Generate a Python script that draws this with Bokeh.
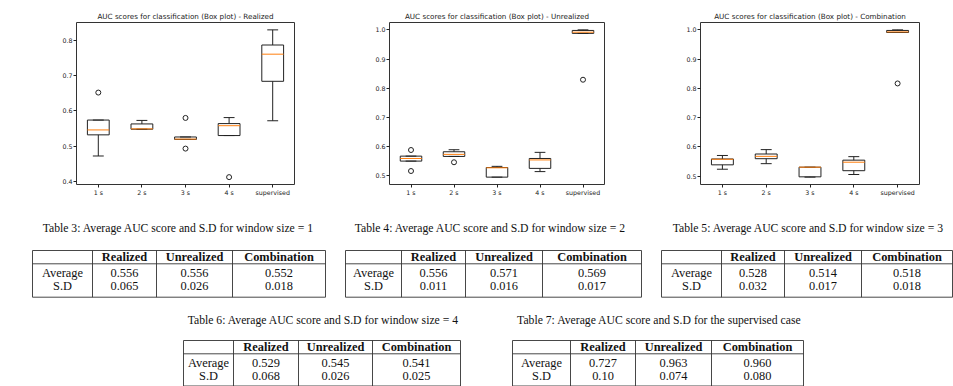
from bokeh.plotting import figure
from bokeh.layouts import column, row
from bokeh.models import Range1d, FixedTicker, NumeralTickFormatter
from bokeh.embed import file_html
from bokeh.resources import INLINE
from bokeh.core.properties import value

# ---------------- data ----------------
categories = ["1 s", "2 s", "3 s", "4 s", "supervised"]

realized_title = "AUC scores for classification (Box plot) - Realized"
realized_q1 = [0.532, 0.548, 0.519, 0.530, 0.684]
realized_med = [0.546, 0.549, 0.520, 0.558, 0.761]
realized_q3 = [0.574, 0.563, 0.526, 0.564, 0.787]
realized_lo = [0.472, 0.548, 0.519, 0.530, 0.572]
realized_hi = [0.574, 0.573, 0.526, 0.581, 0.830]
realized_out_cat = ["1 s", "3 s", "3 s", "4 s"]
realized_out_val = [0.652, 0.580, 0.493, 0.412]
realized_ticks = [0.4, 0.5, 0.6, 0.7, 0.8]

unrealized_title = "AUC scores for classification (Box plot) - Unrealized"
unrealized_q1 = [0.550, 0.566, 0.495, 0.525, 0.988]
unrealized_med = [0.559, 0.573, 0.527, 0.554, 0.992]
unrealized_q3 = [0.567, 0.582, 0.528, 0.559, 0.998]
unrealized_lo = [0.550, 0.566, 0.495, 0.514, 0.988]
unrealized_hi = [0.567, 0.589, 0.532, 0.580, 1.000]
unrealized_out_cat = ["1 s", "1 s", "2 s", "supervised"]
unrealized_out_val = [0.588, 0.516, 0.546, 0.829]
unrealized_ticks = [0.5, 0.6, 0.7, 0.8, 0.9, 1.0]

combination_title = "AUC scores for classification (Box plot) - Combination"
combination_q1 = [0.539, 0.560, 0.498, 0.519, 0.991]
combination_med = [0.558, 0.568, 0.531, 0.548, 0.993]
combination_q3 = [0.559, 0.576, 0.531, 0.555, 0.998]
combination_lo = [0.524, 0.543, 0.497, 0.506, 0.991]
combination_hi = [0.571, 0.591, 0.531, 0.567, 1.000]
combination_out_cat = ["supervised"]
combination_out_val = [0.817]
combination_ticks = [0.5, 0.6, 0.7, 0.8, 0.9, 1.0]

table_cols = ["Realized", "Unrealized", "Combination"]
table_rows = ["Average", "S.D"]

t3_caption = "Table 3: Average AUC score and S.D for window size = 1"
t3_avg = ["0.556", "0.556", "0.552"]
t3_sd = ["0.065", "0.026", "0.018"]
t4_caption = "Table 4: Average AUC score and S.D for window size = 2"
t4_avg = ["0.556", "0.571", "0.569"]
t4_sd = ["0.011", "0.016", "0.017"]
t5_caption = "Table 5: Average AUC score and S.D for window size = 3"
t5_avg = ["0.528", "0.514", "0.518"]
t5_sd = ["0.032", "0.017", "0.018"]
t6_caption = "Table 6: Average AUC score and S.D for window size = 4"
t6_avg = ["0.529", "0.545", "0.541"]
t6_sd = ["0.068", "0.026", "0.025"]
t7_caption = "Table 7: Average AUC score and S.D for the supervised case"
t7_avg = ["0.727", "0.963", "0.960"]
t7_sd = ["0.10", "0.074", "0.080"]

# ---------------- styles ----------------
INK = "#222222"
MEDIAN = "#ff7f0e"
MPL_FONT = "DejaVu Sans"
SERIF = "Liberation Serif"


def box_fig(title, q1, med, q3, lo, hi, out_cat, out_val, ticks, left, fw, right):
    n = len(categories)
    xs = [i + 1 for i in range(n)]
    allv = lo + hi + out_val
    ymin, ymax = min(allv), max(allv)
    pad = (ymax - ymin) * 0.05
    p = figure(frame_width=fw, frame_height=162,
               x_range=Range1d(0.5, n + 0.5),
               y_range=Range1d(ymin - pad, ymax + pad),
               output_backend="svg", toolbar_location=None,
               min_border_left=left, min_border_right=right,
               min_border_top=22, min_border_bottom=16)
    p.title.text = title
    p.title.align = "center"
    p.title.text_font = MPL_FONT
    p.title.text_font_size = "7.2px"
    p.title.text_font_style = "normal"
    p.title.text_color = INK
    p.title.standoff = 4
    p.grid.visible = False
    p.outline_line_color = "#333333"
    p.outline_line_width = 1
    p.outline_line_alpha = 1
    p.background_fill_color = "white"
    p.border_fill_color = "white"

    p.xaxis.ticker = FixedTicker(ticks=xs)
    p.xaxis.major_label_overrides = {x: c for x, c in zip(xs, categories)}
    p.yaxis.ticker = FixedTicker(ticks=ticks)
    p.yaxis.formatter = NumeralTickFormatter(format="0.0")
    for ax in (p.xaxis, p.yaxis):
        ax.axis_line_color = None
        ax.major_tick_line_color = INK
        ax.major_tick_out = 3
        ax.major_tick_in = 0
        ax.minor_tick_line_color = None
        ax.major_label_text_font = MPL_FONT
        ax.major_label_text_font_size = "6.3px"
        ax.major_label_text_color = INK
        ax.major_label_standoff = 1

    hw = 0.25
    cw = 0.125
    p.segment(x0=xs, y0=q3, x1=xs, y1=hi, line_color=INK, line_width=1)
    p.segment(x0=xs, y0=q1, x1=xs, y1=lo, line_color=INK, line_width=1)
    p.segment(x0=[x - cw for x in xs], y0=hi, x1=[x + cw for x in xs], y1=hi,
              line_color=INK, line_width=1)
    p.segment(x0=[x - cw for x in xs], y0=lo, x1=[x + cw for x in xs], y1=lo,
              line_color=INK, line_width=1)
    p.quad(left=[x - hw for x in xs], right=[x + hw for x in xs], bottom=q1, top=q3,
           fill_color=None, line_color=INK, line_width=1)
    p.segment(x0=[x - hw for x in xs], y0=med, x1=[x + hw for x in xs], y1=med,
              line_color=MEDIAN, line_width=1)
    ox = [categories.index(c) + 1 for c in out_cat]
    p.scatter(x=ox, y=out_val, marker="circle", size=5, fill_color=None,
              line_color=INK, line_width=1)
    return p


f1 = box_fig(realized_title, realized_q1, realized_med, realized_q3, realized_lo,
             realized_hi, realized_out_cat, realized_out_val, realized_ticks, 76, 218, 26)
f2 = box_fig(unrealized_title, unrealized_q1, unrealized_med, unrealized_q3, unrealized_lo,
             unrealized_hi, unrealized_out_cat, unrealized_out_val, unrealized_ticks, 69, 215, 32)
f3 = box_fig(combination_title, combination_q1, combination_med, combination_q3, combination_lo,
             combination_hi, combination_out_cat, combination_out_val, combination_ticks, 64, 219, 34)

# ---------------- tables (page-pixel coordinates) ----------------
tf = figure(width=953, height=186, x_range=Range1d(0, 953), y_range=Range1d(386, 200),
            output_backend="svg", toolbar_location=None, min_border=0,
            x_axis_location=None, y_axis_location=None)
tf.grid.visible = False
tf.outline_line_color = None

table_layout = [
    # caption, avg, sd, column borders, caption centre x, caption y, table top
    (t3_caption, t3_avg, t3_sd, [32, 92, 156, 232, 325], 178, 228, 250),
    (t4_caption, t4_avg, t4_sd, [345, 401, 465, 542, 641], 490, 228, 250),
    (t5_caption, t5_avg, t5_sd, [661, 721, 784, 861, 952], 808, 228, 250),
    (t6_caption, t6_avg, t6_sd, [183, 233, 298, 372, 460], 323, 320, 340),
    (t7_caption, t7_avg, t7_sd, [512, 570, 635, 711, 803], 659, 320, 340),
]

for cap, avg, sd, xb, cx, cy, top in table_layout:
    hsep = top + 13.3
    bottom = min(top + 46.7, 385.5)
    hdr_y = top + 6.9
    row_y = [top + 22.0, top + 35.5]
    # rules
    tf.segment(x0=[xb[0]] * 3, y0=[top, hsep, bottom], x1=[xb[-1]] * 3,
               y1=[top, hsep, bottom], line_color="#333333", line_width=0.9)
    tf.segment(x0=xb, y0=[top] * len(xb), x1=xb, y1=[bottom] * len(xb),
               line_color="#333333", line_width=0.9)
    # caption
    tf.text(x=[cx], y=[cy], text=[cap], text_align="center", text_baseline="middle",
            text_font=value(SERIF), text_font_size="11.7px", text_color="#111111")
    centres = [(xb[i] + xb[i + 1]) / 2 for i in range(len(xb) - 1)]
    # header
    tf.text(x=centres[1:], y=[hdr_y] * len(table_cols), text=table_cols,
            text_align="center", text_baseline="middle", text_font=value(SERIF),
            text_font_size="12.4px", text_font_style="bold", text_color="#111111")
    # row labels
    tf.text(x=[centres[0]] * len(table_rows), y=row_y, text=table_rows,
            text_align="center", text_baseline="middle", text_font=value(SERIF),
            text_font_size="12.4px", text_color="#111111")
    for vals, yy in ((avg, row_y[0]), (sd, row_y[1])):
        tf.text(x=centres[1:], y=[yy] * len(vals), text=vals,
                text_align="center", text_baseline="middle", text_font=value(SERIF),
                text_font_size="12.4px", text_color="#111111")

layout = column(row(f1, f2, f3), tf)

with open("out.html", "w") as fh:
    fh.write(file_html(layout, INLINE))
